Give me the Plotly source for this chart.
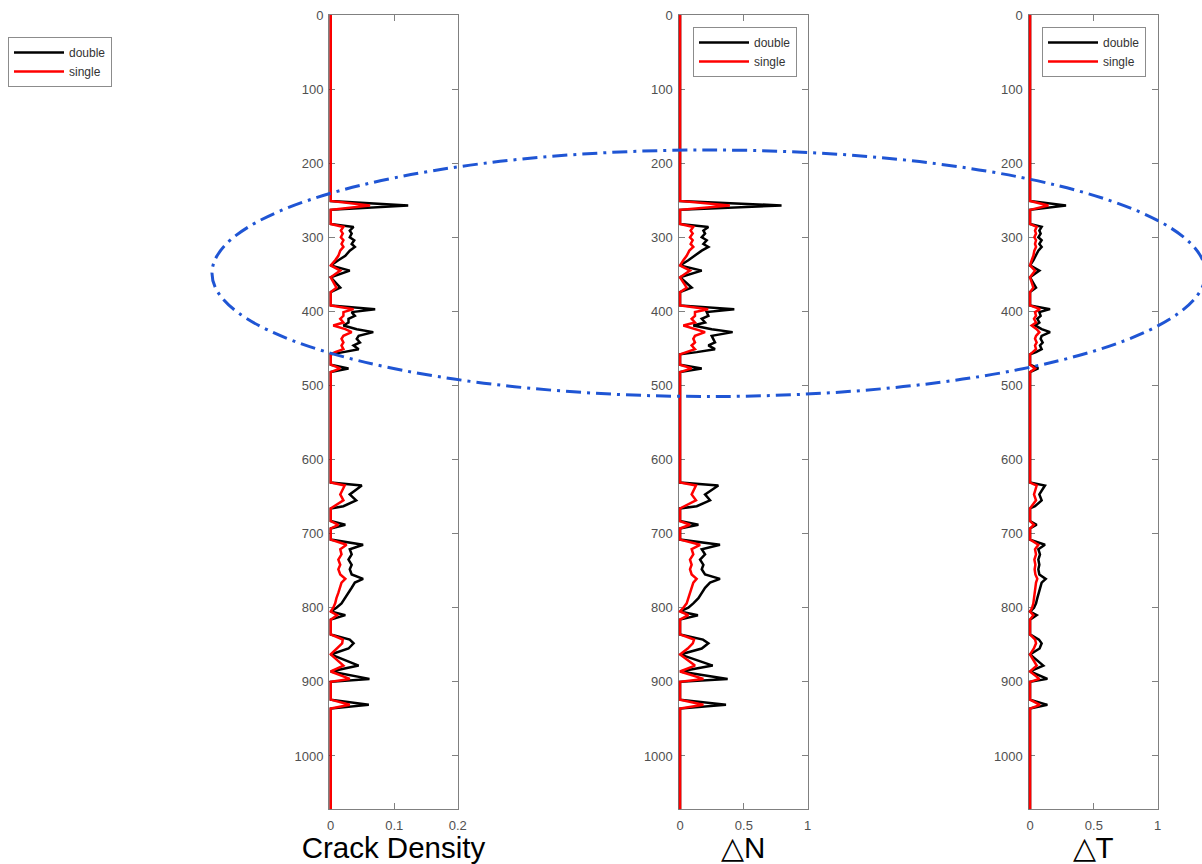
import plotly.graph_objects as go

# ---------------- data ----------------
depth = [0, 251, 257, 263, 282,
         286, 291, 295, 300, 304, 309, 313, 318, 325, 331,
         338, 345, 354, 368, 374,
         392, 397, 401, 406, 410, 415, 419, 424, 428, 433,
         437, 442, 446, 451, 455, 458, 472, 477, 482, 631,
         635, 647, 655, 663, 666, 683, 688, 693, 708, 715,
         721, 728, 735, 742, 748, 755, 761, 766, 773, 780,
         787, 794, 800, 805, 810, 816, 836, 843, 848, 855,
         863, 878, 886, 896, 900, 924, 931, 936, 1072]

crack_double = [0, 0, .122, 0, 0,
                .036, .030, .033, .030, .037, .033, .038, .030, .023, .012,
                0, .030, 0, .015, 0,
                0, .070, .033, .038, .028, .028, .020, .041, .067, .044,
                .041, .046, .036, .044, .020, 0, 0, .028, 0, 0,
                .049, .030, .040, .020, 0, 0, .023, 0, 0, .051,
                .030, .033, .028, .033, .030, .033, .051, .038, .033, .028,
                .023, .017, .009, 0, .023, 0, 0, .030, .036, .028,
                0, .044, 0, .061, 0, 0, .060, 0, 0]
crack_single = [0, 0, .062, 0, 0,
                .020, .016, .019, .016, .020, .017, .020, .015, .012, .007,
                0, .015, 0, .009, 0,
                0, .036, .020, .020, .015, .020, .004, .023, .033, .020,
                .017, .020, .017, .020, .007, 0, 0, .015, 0, 0,
                .022, .015, .020, .004, 0, 0, .012, 0, 0, .025,
                .015, .017, .012, .015, .012, .015, .023, .017, .015, .012,
                .009, .007, .004, 0, .010, 0, 0, .019, .018, .010,
                0, .020, 0, .030, 0, 0, .030, 0, 0]

dn_double = [0, 0, .795, 0, 0,
             .222, .183, .196, .170, .209, .183, .222, .170, .117, .065,
             0, .170, 0, .091, 0,
             0, .425, .209, .222, .170, .196, .104, .248, .412, .248,
             .261, .274, .222, .274, .131, 0, 0, .170, 0, 0,
             .300, .196, .235, .131, 0, 0, .144, 0, 0, .313,
             .170, .196, .157, .183, .170, .196, .313, .235, .196, .170,
             .144, .104, .065, 0, .140, 0, 0, .180, .222, .170,
             0, .256, 0, .373, 0, 0, .360, 0, 0]
dn_single = [0, 0, .390, 0, 0,
             .104, .083, .099, .078, .099, .083, .104, .073, .052, .026,
             0, .078, 0, .052, 0,
             0, .220, .117, .117, .091, .117, .026, .130, .196, .117,
             .104, .117, .091, .117, .052, 0, 0, .091, 0, 0,
             .125, .091, .125, .026, 0, 0, .078, 0, 0, .157,
             .091, .104, .078, .091, .078, .091, .130, .104, .091, .078,
             .065, .052, .026, 0, .065, 0, 0, .110, .100, .060,
             0, .117, 0, .183, 0, 0, .183, 0, 0]

dt_double = [0, 0, .282, 0, 0,
             .091, .073, .083, .065, .091, .073, .091, .065, .047, .026,
             0, .073, 0, .047, 0,
             0, .157, .073, .083, .057, .073, .039, .091, .157, .091,
             .083, .099, .078, .091, .047, 0, 0, .065, 0, 0,
             .117, .073, .091, .039, 0, 0, .052, 0, 0, .117,
             .065, .078, .065, .073, .065, .073, .123, .091, .078, .065,
             .057, .047, .031, 0, .052, 0, 0, .070, .091, .075,
             0, .104, 0, .136, 0, 0, .136, 0, 0]
dt_single = [0, 0, .144, 0, 0,
             .052, .039, .047, .034, .047, .039, .047, .034, .026, .013,
             0, .039, 0, .026, 0,
             0, .078, .039, .047, .031, .047, .013, .052, .073, .047,
             .039, .052, .039, .047, .021, 0, 0, .039, 0, 0,
             .052, .031, .047, .013, 0, 0, .031, 0, 0, .065,
             .039, .047, .034, .042, .036, .042, .057, .047, .042, .036,
             .031, .026, .016, 0, .026, 0, 0, .040, .047, .030,
             0, .052, 0, .073, 0, 0, .078, 0, 0]

for arr in (crack_double, crack_single, dn_double, dn_single, dt_double, dt_single):
    assert len(arr) == len(depth)

panel_titles = ["Crack Density", "\u25b3N", "\u25b3T"]
x_tick_vals = [[0, 0.1, 0.2], [0, 0.5, 1], [0, 0.5, 1]]
x_tick_text = [["0", "0.1", "0.2"], ["0", "0.5", "1"], ["0", "0.5", "1"]]
y_tick_vals = [0, 100, 200, 300, 400, 500, 600, 700, 800, 900, 1000]
series_names = ["double", "single"]

# ---------------- layout geometry (pixels) ----------------
W, H = 1202, 864
def fx(p):
    return p / W
def fy(p):
    return 1 - p / H

x_ranges = [[-0.0024, 0.2], [-0.012, 1], [-0.012, 1]]
x_domains_px = [(329.2, 457.7), (678.5, 807.7), (1028.5, 1157.7)]
y_domain = [fy(809.3), fy(15)]
legend_pos_px = [(8, 37), (693, 27), (1042, 27)]

FONT = "Liberation Sans, Arial, Helvetica, sans-serif"
AXIS_COLOR = "#808080"
TICK_FONT_COLOR = "#505050"

fig = go.Figure()

data = [(crack_double, crack_single), (dn_double, dn_single), (dt_double, dt_single)]
legend_ids = ["legend", "legend2", "legend3"]

for i, (dbl, sgl) in enumerate(data):
    xa = "x" if i == 0 else f"x{i+1}"
    ya = "y" if i == 0 else f"y{i+1}"
    for vals, name, color in ((dbl, series_names[0], "#000000"), (sgl, series_names[1], "#ff0000")):
        fig.add_trace(go.Scatter(
            x=vals, y=depth, mode="lines", name=name,
            line=dict(color=color, width=2.5),
            xaxis=xa, yaxis=ya, legend=legend_ids[i],
            hoverinfo="skip",
        ))

layout = dict(
    width=W, height=H, autosize=False,
    margin=dict(l=0, r=0, t=0, b=0, pad=0, autoexpand=False),
    paper_bgcolor="white", plot_bgcolor="white",
    font=dict(family=FONT, color=TICK_FONT_COLOR),
)

for i in range(3):
    xk = "xaxis" if i == 0 else f"xaxis{i+1}"
    yk = "yaxis" if i == 0 else f"yaxis{i+1}"
    ya = "y" if i == 0 else f"y{i+1}"
    xa = "x" if i == 0 else f"x{i+1}"
    d0, d1 = x_domains_px[i]
    layout[xk] = dict(
        domain=[fx(d0), fx(d1)], anchor=ya, range=x_ranges[i],
        tickvals=x_tick_vals[i], ticktext=x_tick_text[i],
        ticks="inside", ticklen=6, tickcolor=AXIS_COLOR, tickwidth=1,
        showline=True, linecolor=AXIS_COLOR, linewidth=1.2, mirror="ticks",
        showgrid=False, zeroline=False, layer="below traces",
        tickfont=dict(size=13, color=TICK_FONT_COLOR, family=FONT),
        ticklabelstandoff=4,
        title=dict(text=panel_titles[i], font=dict(size=29.5, color="#000000", family=FONT), standoff=2),
        automargin=False, fixedrange=True,
    )
    layout[yk] = dict(
        domain=y_domain, anchor=xa, range=[1072, 0],
        tickvals=y_tick_vals,
        ticks="inside", ticklen=6, tickcolor=AXIS_COLOR, tickwidth=1,
        showline=True, linecolor=AXIS_COLOR, linewidth=1.2, mirror="ticks",
        showgrid=False, zeroline=False, layer="below traces",
        tickfont=dict(size=13, color=TICK_FONT_COLOR, family=FONT),
        ticklabelstandoff=2,
        automargin=False, fixedrange=True,
    )
    lx, ly = legend_pos_px[i]
    layout[legend_ids[i]] = dict(
        x=fx(lx), y=fy(ly), xanchor="left", yanchor="top",
        bgcolor="white", bordercolor="#8c8c8c", borderwidth=1,
        font=dict(size=12, color="#333333", family=FONT),
        tracegroupgap=0, itemwidth=50,
    )

layout["shapes"] = [dict(
    type="circle", xref="paper", yref="paper",
    x0=fx(212), x1=fx(1205.5), y0=fy(396.5), y1=fy(150),
    line=dict(color="#1f55d4", width=3, dash="15px,6px,3px,6px"),
    layer="above",
)]

fig.update_layout(**layout)

fig.write_html("out.html", config={"displayModeBar": False},
               post_script="document.body.style.margin='0';")
